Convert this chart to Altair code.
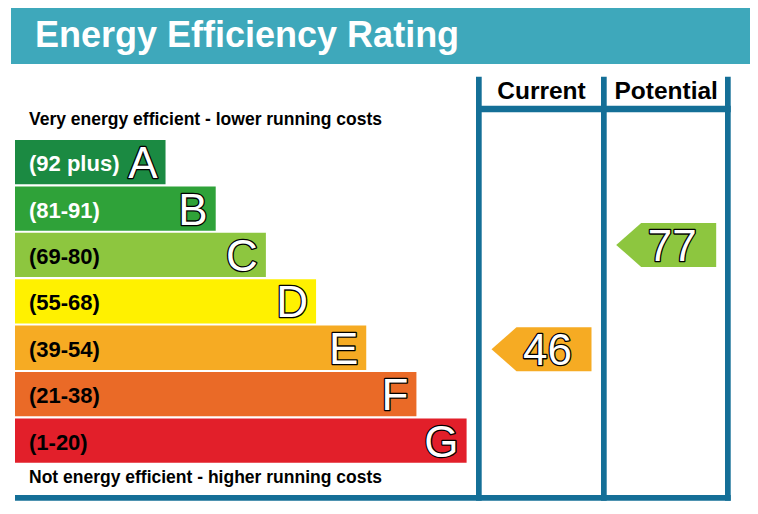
import altair as alt
import pandas as pd

# ---- data ----
letters = ["A", "B", "C", "D", "E", "F", "G"]
ranges = ["(92 plus)", "(81-91)", "(69-80)", "(55-68)", "(39-54)", "(21-38)", "(1-20)"]
band_min = [92, 81, 69, 55, 39, 21, 1]
band_max = [100, 91, 80, 68, 54, 38, 20]
band_colors = ["#1b8a42", "#2fa239", "#8dc63f", "#fff100", "#f6ab23", "#ea6a27", "#e21f2a"]
range_text_colors = ["white", "white", "black", "black", "black", "black", "black"]
columns = ["Current", "Potential"]
scores = [46, 77]
title_text = "Energy Efficiency Rating"
top_note = "Very energy efficient - lower running costs"
bottom_note = "Not energy efficient - higher running costs"

FONT = "Liberation Sans, Arial, Helvetica, sans-serif"
BANNER = "#3ea8bb"
LINE = "#146f97"
BAR_FRAC = 0.955

bands = pd.DataFrame({
    "letter": letters,
    "range": ranges,
    "tcol": range_text_colors,
    "rank": list(range(len(letters))),
})
bands["x0"] = 0
bands["len"] = bands["rank"] + 3
bands["y0"] = bands["rank"]
bands["y1"] = bands["rank"] + BAR_FRAC
bands["yc"] = bands["rank"] + BAR_FRAC / 2

rows = []
for col, s in zip(columns, scores):
    for i, (lo, hi) in enumerate(zip(band_min, band_max)):
        if lo <= s <= hi:
            frac = (s - lo) / (hi - lo)
            rows.append({"column": col, "score": str(s), "letter": letters[i],
                         "yc": i + BAR_FRAC * (1 - frac)})
ratings = pd.DataFrame(rows)

XB = alt.Scale(domain=[0, 9], range=[7, 458.6], nice=False, zero=False)
YB = alt.Scale(domain=[0, 7], range=[132, 456.8], nice=False, zero=False)
XC = alt.Scale(type="point", domain=columns, range=[533.5, 658.2], padding=0)
COLOR = alt.Scale(domain=letters, range=band_colors)

one = pd.DataFrame({"k": [0]})


def box(x, x2, y, y2, color):
    return alt.Chart(one).mark_rect(color=color).encode(
        x=alt.value(x), x2=alt.value(x2), y=alt.value(y), y2=alt.value(y2))


banner = box(3, 742, 0, 56, BANNER)
title = alt.Chart(one).mark_text(
    text=title_text, font=FONT, fontSize=36, fontWeight="bold", color="white",
    align="left", baseline="alphabetic").encode(x=alt.value(27), y=alt.value(38.7))

vlines = [box(468, 473.7, 68.7, 492.7, LINE),
          box(593, 598.7, 68.7, 492.7, LINE),
          box(717, 722.7, 68.7, 492.7, LINE)]
hline = box(468, 722.7, 97.7, 104.3, LINE)
bottom_line = box(7, 722.7, 487, 492.7, LINE)

notes = [
    alt.Chart(one).mark_text(text=top_note, font=FONT, fontSize=17.5, fontWeight="bold",
                             color="black", align="left", baseline="alphabetic")
    .encode(x=alt.value(21), y=alt.value(117)),
    alt.Chart(one).mark_text(text=bottom_note, font=FONT, fontSize=17.5, fontWeight="bold",
                             color="black", align="left", baseline="alphabetic")
    .encode(x=alt.value(21), y=alt.value(475.3)),
]

bars = alt.Chart(bands).mark_rect().encode(
    x=alt.X("x0:Q", scale=XB, axis=None), x2="len:Q",
    y=alt.Y("y0:Q", scale=YB, axis=None), y2="y1:Q",
    color=alt.Color("letter:N", scale=COLOR, legend=None))

range_labels = alt.Chart(bands).mark_text(
    font=FONT, fontSize=22, fontWeight="bold", align="left", baseline="alphabetic",
    dx=14, dy=9).encode(
    x=alt.X("x0:Q", scale=XB, axis=None),
    y=alt.Y("yc:Q", scale=YB, axis=None),
    text="range:N",
    color=alt.Color("tcol:N", scale=None))


def outlined(data, xenc, yfield, tfield, align, dx, dy):
    enc = dict(x=xenc, y=alt.Y(f"{yfield}:Q", scale=YB, axis=None), text=f"{tfield}:N")
    base = dict(font=FONT, fontSize=44, align=align, baseline="alphabetic", dx=dx, dy=dy)
    under = alt.Chart(data).mark_text(fill="black", stroke="black", strokeWidth=2.6,
                                      strokeJoin="round", **base).encode(**enc)
    over = alt.Chart(data).mark_text(fill="white", **base).encode(**enc)
    return [under, over]


band_letters = outlined(bands, alt.X("len:Q", scale=XB, axis=None), "yc", "letter",
                        "right", -8, 16)

ARROW = "M -1 0 L -0.5 -0.44 L 1 -0.44 L 1 0.44 L -0.5 0.44 Z"
arrows = alt.Chart(ratings).mark_point(
    shape=ARROW, size=10000, filled=True, opacity=1, strokeWidth=0).encode(
    x=alt.X("column:N", scale=XC, axis=None),
    y=alt.Y("yc:Q", scale=YB, axis=None),
    color=alt.Color("letter:N", scale=COLOR, legend=None))

numbers = outlined(ratings, alt.X("column:N", scale=XC, axis=None), "yc", "score",
                   "center", 6, 16)

headers = alt.Chart(pd.DataFrame({"column": columns})).mark_text(
    font=FONT, fontSize=24.5, fontWeight="bold", align="center", baseline="alphabetic",
    color="black").encode(
    x=alt.X("column:N", scale=XC, axis=None),
    y=alt.value(91),
    text="column:N")

chart = alt.layer(
    banner, title, *vlines, hline, bottom_line, *notes,
    bars, range_labels, *band_letters, arrows, *numbers, headers
).resolve_scale(x="independent").properties(
    width=742, height=498, padding=0, autosize="none"
).configure_view(strokeWidth=0)

chart.save("out.html", embed_options={"renderer": "svg", "actions": False})
